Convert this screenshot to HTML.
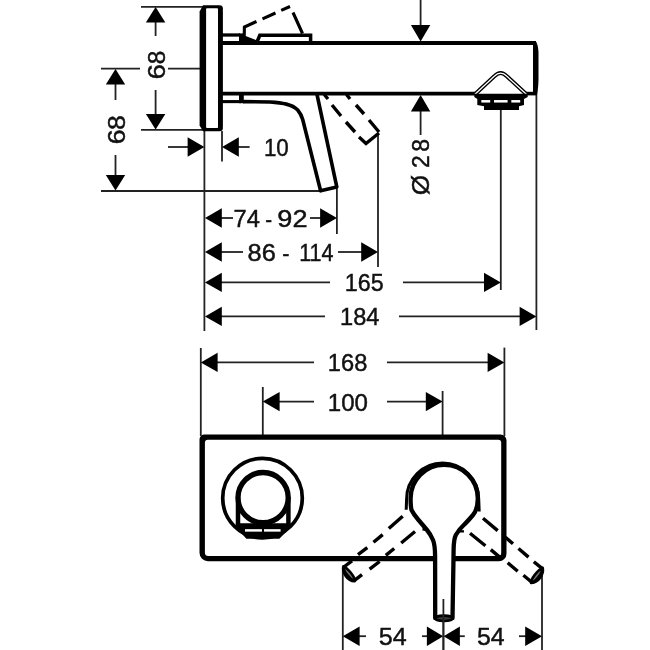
<!DOCTYPE html>
<html><head><meta charset="utf-8"><title>Dimension drawing</title>
<style>
html,body{margin:0;padding:0;background:#fff;}
body{width:650px;height:650px;overflow:hidden;}
svg{display:block;will-change:transform;filter:blur(0.55px);}
text{font-family:"Liberation Sans",sans-serif;fill:#111;stroke:#111;stroke-width:0.45px;}
</style></head><body>
<svg width="650" height="650" viewBox="0 0 650 650">
<rect width="650" height="650" fill="#fff"/>
<line x1="141" y1="6.8" x2="203" y2="6.8" stroke="#222" stroke-width="1.8" />
<line x1="101" y1="68.6" x2="140" y2="68.6" stroke="#222" stroke-width="1.8" />
<line x1="168" y1="68.6" x2="201" y2="68.6" stroke="#222" stroke-width="1.8" />
<line x1="141" y1="129.8" x2="204" y2="129.8" stroke="#222" stroke-width="1.8" />
<line x1="101" y1="191" x2="320" y2="191" stroke="#222" stroke-width="1.8" />
<line x1="204.4" y1="130" x2="204.4" y2="331" stroke="#222" stroke-width="1.8" />
<line x1="222" y1="131" x2="222" y2="161.6" stroke="#222" stroke-width="1.8" />
<line x1="336.9" y1="187" x2="336.9" y2="234" stroke="#222" stroke-width="1.8" />
<line x1="378" y1="133" x2="378" y2="267" stroke="#222" stroke-width="1.8" />
<line x1="500.8" y1="109" x2="500.8" y2="290" stroke="#222" stroke-width="1.8" />
<line x1="536.4" y1="90" x2="536.4" y2="330" stroke="#222" stroke-width="1.8" />
<line x1="155.6" y1="22" x2="155.6" y2="36" stroke="#222" stroke-width="1.8" />
<line x1="155.6" y1="90" x2="155.6" y2="114" stroke="#222" stroke-width="1.8" />
<line x1="115.5" y1="84" x2="115.5" y2="100" stroke="#222" stroke-width="1.8" />
<line x1="115.5" y1="155" x2="115.5" y2="175" stroke="#222" stroke-width="1.8" />
<line x1="168" y1="147" x2="188" y2="147" stroke="#222" stroke-width="1.8" />
<line x1="238" y1="147" x2="249.6" y2="147" stroke="#222" stroke-width="1.8" />
<line x1="420.6" y1="0" x2="420.6" y2="25" stroke="#222" stroke-width="1.8" />
<line x1="420.6" y1="111" x2="420.6" y2="135" stroke="#222" stroke-width="1.8" />
<line x1="221" y1="218" x2="233" y2="218" stroke="#222" stroke-width="1.8" />
<line x1="310" y1="218" x2="321.6" y2="218" stroke="#222" stroke-width="1.8" />
<line x1="221" y1="252" x2="243" y2="252" stroke="#222" stroke-width="1.8" />
<line x1="338" y1="252" x2="362" y2="252" stroke="#222" stroke-width="1.8" />
<line x1="221" y1="282.4" x2="330" y2="282.4" stroke="#222" stroke-width="1.8" />
<line x1="403" y1="282.4" x2="485" y2="282.4" stroke="#222" stroke-width="1.8" />
<line x1="221" y1="316.4" x2="325" y2="316.4" stroke="#222" stroke-width="1.8" />
<line x1="399" y1="316.4" x2="520.6" y2="316.4" stroke="#222" stroke-width="1.8" />
<line x1="200.8" y1="348" x2="200.8" y2="436" stroke="#222" stroke-width="1.8" />
<line x1="262.8" y1="387" x2="262.8" y2="436" stroke="#222" stroke-width="1.8" />
<line x1="442.6" y1="391" x2="442.6" y2="436" stroke="#222" stroke-width="1.8" />
<line x1="504.4" y1="347.6" x2="504.4" y2="436" stroke="#222" stroke-width="1.8" />
<line x1="217" y1="362.4" x2="314" y2="362.4" stroke="#222" stroke-width="1.8" />
<line x1="387" y1="362.4" x2="488" y2="362.4" stroke="#222" stroke-width="1.8" />
<line x1="278.6" y1="401.6" x2="314" y2="401.6" stroke="#222" stroke-width="1.8" />
<line x1="387" y1="401.6" x2="427" y2="401.6" stroke="#222" stroke-width="1.8" />
<line x1="342.8" y1="567" x2="342.8" y2="650" stroke="#222" stroke-width="1.8" />
<line x1="443.4" y1="599" x2="443.4" y2="650" stroke="#222" stroke-width="1.8" />
<line x1="542" y1="570" x2="542" y2="650" stroke="#222" stroke-width="1.8" />
<line x1="358" y1="636.2" x2="366" y2="636.2" stroke="#222" stroke-width="1.8" />
<line x1="422" y1="636.2" x2="428" y2="636.2" stroke="#222" stroke-width="1.8" />
<line x1="459" y1="636.2" x2="464.8" y2="636.2" stroke="#222" stroke-width="1.8" />
<line x1="519" y1="636.2" x2="526" y2="636.2" stroke="#222" stroke-width="1.8" />
<polygon points="155.6,7 145.9,22.5 165.29999999999998,22.5" fill="#000"/>
<polygon points="155.6,129.6 145.9,114.1 165.29999999999998,114.1" fill="#000"/>
<polygon points="115.5,69 105.8,84.5 125.2,84.5" fill="#000"/>
<polygon points="115.5,190.5 105.8,175.0 125.2,175.0" fill="#000"/>
<polygon points="204.4,147 187.6,137.3 187.6,156.7" fill="#000"/>
<polygon points="222,147 238.8,137.3 238.8,156.7" fill="#000"/>
<polygon points="420.6,41.5 410.90000000000003,25.0 430.3,25.0" fill="#000"/>
<polygon points="420.6,95 410.90000000000003,111.5 430.3,111.5" fill="#000"/>
<polygon points="205,218 221.8,208.3 221.8,227.7" fill="#000"/>
<polygon points="205,252 221.8,242.3 221.8,261.7" fill="#000"/>
<polygon points="205,282.4 221.8,272.7 221.8,292.09999999999997" fill="#000"/>
<polygon points="205,316.4 221.8,306.7 221.8,326.09999999999997" fill="#000"/>
<polygon points="336.9,218 320.09999999999997,208.3 320.09999999999997,227.7" fill="#000"/>
<polygon points="378,252 361.2,242.3 361.2,261.7" fill="#000"/>
<polygon points="500.8,282.4 484.0,272.7 484.0,292.09999999999997" fill="#000"/>
<polygon points="536.4,316.4 519.6,306.7 519.6,326.09999999999997" fill="#000"/>
<polygon points="200.8,362.4 217.60000000000002,352.7 217.60000000000002,372.09999999999997" fill="#000"/>
<polygon points="262.8,401.6 279.6,391.90000000000003 279.6,411.3" fill="#000"/>
<polygon points="504.4,362.4 487.59999999999997,352.7 487.59999999999997,372.09999999999997" fill="#000"/>
<polygon points="442.6,401.6 425.8,391.90000000000003 425.8,411.3" fill="#000"/>
<polygon points="342.8,636.2 359.6,626.5 359.6,645.9000000000001" fill="#000"/>
<polygon points="443.2,636.2 426.9,626.5 426.9,645.9000000000001" fill="#000"/>
<polygon points="443.6,636.2 459.90000000000003,626.5 459.90000000000003,645.9000000000001" fill="#000"/>
<polygon points="542,636.2 525.2,626.5 525.2,645.9000000000001" fill="#000"/>
<text transform="translate(164.8,78.0) rotate(-90)" y="0" font-size="24.4"><tspan x="-1.41" textLength="15.43" lengthAdjust="spacingAndGlyphs">6</tspan><tspan x="13.73" textLength="13.63" lengthAdjust="spacingAndGlyphs">8</tspan></text>
<text transform="translate(125.0,143.0) rotate(-90)" y="0" font-size="24.4"><tspan x="-1.36" textLength="14.95" lengthAdjust="spacingAndGlyphs">6</tspan><tspan x="12.94" textLength="14.82" lengthAdjust="spacingAndGlyphs">8</tspan></text>
<text y="155.8" font-size="24.4"><tspan x="263.90" textLength="24.88" lengthAdjust="spacingAndGlyphs">10</tspan></text>
<text transform="translate(429.4,194.4) rotate(-90)" y="0" font-size="24.4"><tspan x="-0.91" textLength="20.39" lengthAdjust="spacingAndGlyphs">Ø</tspan> <tspan x="26.46" textLength="12.57" lengthAdjust="spacingAndGlyphs">2</tspan><tspan x="42.60" textLength="12.80" lengthAdjust="spacingAndGlyphs">8</tspan></text>
<text y="227.2" font-size="24.4"><tspan x="233.49" textLength="26.31" lengthAdjust="spacingAndGlyphs">74</tspan> <tspan x="265.19" textLength="6.82" lengthAdjust="spacingAndGlyphs">-</tspan> <tspan x="277.33" textLength="30.13" lengthAdjust="spacingAndGlyphs">92</tspan></text>
<text y="260.6" font-size="24.4"><tspan x="247.60" textLength="28.22" lengthAdjust="spacingAndGlyphs">86</tspan> <tspan x="282.34" textLength="7.23" lengthAdjust="spacingAndGlyphs">-</tspan> <tspan x="299.13" textLength="34.37" lengthAdjust="spacingAndGlyphs">114</tspan></text>
<text y="291.4" font-size="24.4"><tspan x="344.83" textLength="38.85" lengthAdjust="spacingAndGlyphs">165</tspan></text>
<text y="325.0" font-size="24.4"><tspan x="340.00" textLength="39.39" lengthAdjust="spacingAndGlyphs">184</tspan></text>
<text y="371.2" font-size="24.4"><tspan x="327.80" textLength="39.53" lengthAdjust="spacingAndGlyphs">168</tspan></text>
<text y="410.8" font-size="24.4"><tspan x="327.77" textLength="40.17" lengthAdjust="spacingAndGlyphs">100</tspan></text>
<text y="644.9" font-size="24.4"><tspan x="378.79" textLength="27.94" lengthAdjust="spacingAndGlyphs">54</tspan></text>
<text y="644.9" font-size="24.4"><tspan x="476.91" textLength="27.62" lengthAdjust="spacingAndGlyphs">54</tspan></text>
<path d="M199.6,11.5 L203,5.2 L219.5,5.2 Q222.9,5.2 222.9,8.6 L222.9,128 Q222.9,131.3 219.5,131.3 L203,131.3 L199.6,125.5 Z" fill="#000"/>
<rect x="206.1" y="8.3" width="11.9" height="119.7" rx="0.8" fill="#fff"/>
<line x1="221" y1="43.0" x2="536" y2="43.0" stroke="#000" stroke-width="3.8" />
<line x1="221" y1="93.6" x2="475.5" y2="93.6" stroke="#000" stroke-width="3.6" />
<line x1="525" y1="93.6" x2="536.5" y2="93.6" stroke="#000" stroke-width="3.6" />
<path d="M533,41.3 L535,41.3 Q537.8,42.5 538.5,52 L538.5,80 Q538.2,90 536.8,95.1 L533,95.1 Z" fill="#000"/>
<line x1="221" y1="35.0" x2="240" y2="35.0" stroke="#000" stroke-width="3.3" />
<rect x="239" y="33.4" width="5.2" height="10.5" fill="#000"/>
<line x1="221" y1="101.6" x2="241" y2="101.6" stroke="#000" stroke-width="3.1" />
<rect x="239" y="93" width="4.8" height="10.2" fill="#000"/>
<path d="M243,101.6 L270,102 C282,102.7 292,104 297.7,110 C300.2,113 301.7,116 302.7,119.5 L320.6,190.8 L336.8,186.9 L316.9,94" fill="none" stroke="#000" stroke-width="3.6" stroke-linejoin="round"/>
<path d="M256.8,42.5 L259.8,35.3 L310.6,35.3 L310.6,42.5" fill="none" stroke="#000" stroke-width="3.5" stroke-linejoin="miter"/>
<polygon points="239,43.5 243,35 256.5,40.3 257.5,43.5" fill="#000"/>
<path d="M244.2,38 L244.4,27 L256.5,21.5 M262.5,18.8 L275.5,13 M281.2,10.4 L290,6.5 M293,12.5 L302.5,33.5" fill="none" stroke="#000" stroke-width="3.1" stroke-linejoin="miter"/>
<path d="M324.2,94.5 L328,99 M332,105 L341,116 M346,122 L355,132 M346.5,94.5 L350,99 M356,105 L364,114 M369,120 L379,132" fill="none" stroke="#000" stroke-width="3.4"/>
<path d="M359,137 L366,143.5 L379,133" fill="none" stroke="#000" stroke-width="3.3" stroke-linejoin="miter"/>
<path d="M475,94.3 L494.3,76.3 Q500.6,69.8 506.9,76.3 L526.4,94.3" fill="none" stroke="#000" stroke-width="4.0" stroke-linejoin="round"/>
<path d="M475,94.3 L494.3,76.3 Q500.6,69.8 506.9,76.3 L526.4,94.3" fill="none" stroke="#fff" stroke-width="1.25" stroke-linejoin="round"/>
<polygon points="474.3,93.8 527.7,93.8 527.7,97 524,99 524,105 519,106.3 519,109.9 484,109.9 484,106.3 477.3,105 477.3,99 474.3,97" fill="#000"/>
<line x1="481.3" y1="101.3" x2="490.2" y2="101.3" stroke="#fff" stroke-width="2.5" />
<line x1="494" y1="101.3" x2="507.6" y2="101.3" stroke="#fff" stroke-width="2.5" />
<line x1="511.3" y1="101.3" x2="520.2" y2="101.3" stroke="#fff" stroke-width="2.5" />
<path d="M204.5,434.5 L500.5,434.5 A6,6 0 0 1 506.5,440.5 L506.5,553.7 A7.5,7.5 0 0 1 499.0,561.2 L208.0,561.2 A8.5,8.5 0 0 1 199.5,552.7 L199.5,439.5 A5,5 0 0 1 204.5,434.5 Z M207.9,439.8 L498.2,439.8 A3,3 0 0 1 501.2,442.8 L501.2,552.9 A3,3 0 0 1 498.2,555.9 L208.4,555.9 A3.5,3.5 0 0 1 204.9,552.4 L204.9,442.8 A3,3 0 0 1 207.9,439.8 Z" fill="#000" fill-rule="evenodd"/>
<circle cx="262.5" cy="498.1" r="39.8" fill="none" stroke="#000" stroke-width="3.7"/>
<circle cx="263.1" cy="497.6" r="25.1" fill="none" stroke="#000" stroke-width="5.3"/>
<line x1="238.0" y1="497" x2="238.0" y2="526" stroke="#000" stroke-width="4.5" />
<line x1="288.4" y1="497" x2="288.4" y2="526" stroke="#000" stroke-width="4.5" />
<line x1="236" y1="524.8" x2="290.4" y2="524.8" stroke="#000" stroke-width="2.6" />
<polygon points="235.8,523.5 290.6,523.5 290.6,527 284.8,533.2 279.3,538.7 246.4,538.7 241.4,533.2 235.8,527" fill="#000"/>
<line x1="245" y1="530.4" x2="262" y2="530.4" stroke="#fff" stroke-width="2.5" />
<line x1="264" y1="530.4" x2="280.6" y2="530.4" stroke="#fff" stroke-width="2.5" />
<path d="M406.2,509.8 L406.6,499.1 A36.05,36.05 0 0 1 478.7,499.1 L479.2,511.5" fill="none" stroke="#000" stroke-width="3.0" stroke-linejoin="round"/>
<path d="M402.7,516.2 L388.8,528.5 M382.7,534.6 L373.5,542.3 M367.3,547.7 L358,554.6 M352,560.8 L343.8,567 M415,531.5 L401.2,543 M394.2,548.5 L385.8,555.4 M379.6,561.5 L369.6,569.2 M362,574.6 L354.5,580.3" fill="none" stroke="#000" stroke-width="3.4"/>
<ellipse cx="0" cy="0" rx="8.6" ry="2.1" transform="translate(349,573.8) rotate(51)" fill="#777" stroke="#000" stroke-width="2.6"/><path d="M343.6,566.5 C342.6,573 347.5,580.5 354.6,581" fill="none" stroke="#000" stroke-width="3.2" stroke-linecap="round"/>
<path d="M483,518.3 L497.7,530.6 M505.4,537.2 L513,543.8 M518.5,548.5 L528.5,557.1 M533.8,561.7 L542.3,568.6 M470,533.2 L485.4,545.7 M490.8,549.6 L500.8,558.1 M507.7,562.8 L517.7,571.2 M523.4,575.2 L531.5,582" fill="none" stroke="#000" stroke-width="3.4"/>
<ellipse cx="0" cy="0" rx="8.6" ry="2.1" transform="translate(536.8,575.7) rotate(-52)" fill="#777" stroke="#000" stroke-width="2.6"/><path d="M542.5,568.2 C543.5,574.5 538.5,581.8 531.3,582.7" fill="none" stroke="#000" stroke-width="3.2" stroke-linecap="round"/>
<path d="M435.2,618.2 L435.1,556 C435,549 434.3,543 433,540 C431.5,536.5 429.5,533 427,530 C424.5,527 421.5,523.5 418.5,520 C415.5,516.5 413,513 411.5,510 C410.8,507 410.6,503 410.6,498.4 A33.6,33.6 0 1 1 477.8,498.4 C477.7,507 475.5,512 473,515 C470,518.5 467,522 463.8,525 C460,528.5 457.5,532 455.8,535 C454.3,538 453.7,543 453.6,550 L453.5,558 L452.5,618.2 Z" fill="#fff" stroke="#000" stroke-width="4.3" stroke-linejoin="round"/>
<ellipse cx="443.9" cy="618.3" rx="8.6" ry="2.7" fill="#3a3a3a" stroke="#000" stroke-width="2.6"/>
<line x1="443.4" y1="599" x2="443.4" y2="650" stroke="#222" stroke-width="1.8" />
<line x1="422.5" y1="529.3" x2="426" y2="529.6" stroke="#000" stroke-width="2.6" />
<line x1="458" y1="531.2" x2="464" y2="531.4" stroke="#000" stroke-width="2.4" />
</svg>
</body></html>
